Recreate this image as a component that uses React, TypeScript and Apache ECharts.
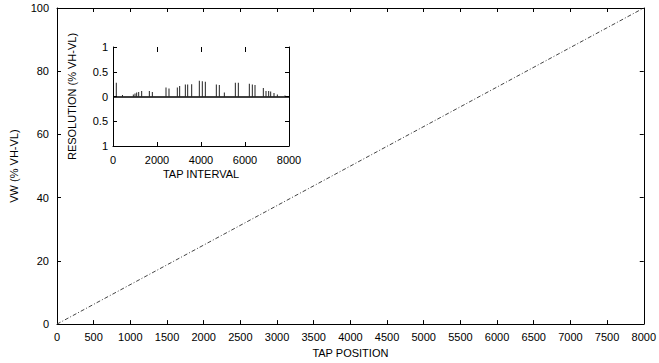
import React, { useEffect, useRef } from "react";
import * as echarts from "echarts";

// Main plot: VW vs tap position
const tapPosition = [0, 8000];
const vwPercent = [0, 100];

// Inset: resolution vs tap interval
const tapInterval = [
  150, 430, 924, 1000, 1076, 1167, 1303, 1652, 1788, 2409, 2545, 2924, 3030,
  3288, 3394, 3576, 3924, 4060, 4197, 4697, 4833, 5061, 5561, 5697, 6197,
  6333, 6455, 6833, 6955, 7076, 7167, 7318, 7470, 7818,
];
const resolution = [
  0.28, 0.03, 0.04, 0.06, 0.08, 0.09, 0.11, 0.11, 0.09, 0.18, 0.16, 0.18, 0.21,
  0.24, 0.24, 0.25, 0.32, 0.31, 0.30, 0.24, 0.23, 0.08, 0.28, 0.28, 0.26,
  0.24, 0.23, 0.17, 0.11, 0.11, 0.10, 0.07, 0.04, 0.02,
];

const FONT = "'Liberation Sans', Arial, Helvetica, sans-serif";
const txt = { color: "#000", fontSize: 11, fontFamily: FONT };
const line = { show: true, onZero: false, lineStyle: { color: "#000", width: 1 } };
const plain = (v: number) => String(v);

export default function App() {
  const ref = useRef<HTMLDivElement>(null);
  useEffect(() => {
    if (!ref.current) return;
    const chart = echarts.init(ref.current, undefined, { renderer: "svg" });
    chart.setOption({
      animation: false,
      backgroundColor: "#fff",
      grid: [
        { left: 52, top: 8, width: 597, height: 321 },
        { left: 113, top: 47, width: 176, height: 99 },
      ],
      xAxis: [
        {
          gridIndex: 0, type: "value", min: 0, max: 8000, interval: 500, position: "bottom",
          axisLine: line, axisTick: { inside: true, length: 4, lineStyle: { color: "#000" } },
          axisLabel: { ...txt, margin: 7, formatter: plain },
          splitLine: { show: false },
          name: "TAP POSITION", nameLocation: "middle", nameGap: 19, nameTextStyle: txt,
        },
        {
          gridIndex: 0, type: "value", min: 0, max: 8000, interval: 500, position: "top",
          axisLine: line, axisTick: { inside: true, length: 4, lineStyle: { color: "#000" } },
          axisLabel: { show: false }, splitLine: { show: false },
        },
        {
          gridIndex: 1, type: "value", min: 0, max: 8000, interval: 2000, position: "bottom",
          axisLine: line, axisTick: { inside: true, length: 4, lineStyle: { color: "#000" } },
          axisLabel: { ...txt, margin: 8, formatter: plain }, splitLine: { show: false },
          name: "TAP INTERVAL", nameLocation: "middle", nameGap: 22, nameTextStyle: txt,
        },
        {
          gridIndex: 1, type: "value", min: 0, max: 8000, interval: 2000, position: "top",
          axisLine: { show: false, onZero: false }, axisTick: { show: true, inside: true, length: 5, lineStyle: { color: "#000" } },
          axisLabel: { show: false }, splitLine: { show: false },
        },
      ],
      yAxis: [
        {
          gridIndex: 0, type: "value", min: 0, max: 100, interval: 20, position: "left",
          axisLine: line, axisTick: { inside: true, length: 4, lineStyle: { color: "#000" } },
          axisLabel: { ...txt, margin: 8 }, splitLine: { show: false },
          name: "VW (% VH-VL)", nameLocation: "middle", nameGap: 38, nameRotate: 90, nameTextStyle: txt,
        },
        {
          gridIndex: 0, type: "value", min: 0, max: 100, interval: 20, position: "right",
          axisLine: line, axisTick: { inside: true, length: 4, lineStyle: { color: "#000" } },
          axisLabel: { show: false }, splitLine: { show: false },
        },
        {
          gridIndex: 1, type: "value", min: -1, max: 1, interval: 0.5, position: "left",
          axisLine: line, axisTick: { inside: true, length: 4, lineStyle: { color: "#000" } },
          axisLabel: { ...txt, margin: 5, formatter: (v: number) => String(Math.abs(v)) },
          splitLine: { show: false },
          name: "RESOLUTION (% VH-VL)", nameLocation: "middle", nameGap: 36, nameRotate: 90, nameTextStyle: txt,
        },
        {
          gridIndex: 1, type: "value", min: -1, max: 1, interval: 0.5, position: "right",
          axisLine: line, axisTick: { inside: true, length: 4, lineStyle: { color: "#000" } },
          axisLabel: { show: false }, splitLine: { show: false },
        },
      ],
      series: [
        {
          type: "line", xAxisIndex: 0, yAxisIndex: 0, showSymbol: false, symbol: "none",
          data: tapPosition.map((x, i) => [x, vwPercent[i]]),
          lineStyle: { color: "#444", width: 1, type: [4, 2, 1, 2] },
        },
        {
          type: "bar", xAxisIndex: 2, yAxisIndex: 2, barWidth: 1,
          data: tapInterval.map((x, i) => [x, resolution[i]]),
          itemStyle: { color: "#222" },
          markLine: {
            silent: true, symbol: ["none", "none"], label: { show: false },
            lineStyle: { color: "#000", width: 1.5, type: "solid" },
            data: [{ yAxis: 0 }],
          },
        },
      ],
    });
    return () => chart.dispose();
  }, []);
  return <div ref={ref} style={{ position: "fixed", left: 0, top: 0, width: 659, height: 363 }} />;
}
